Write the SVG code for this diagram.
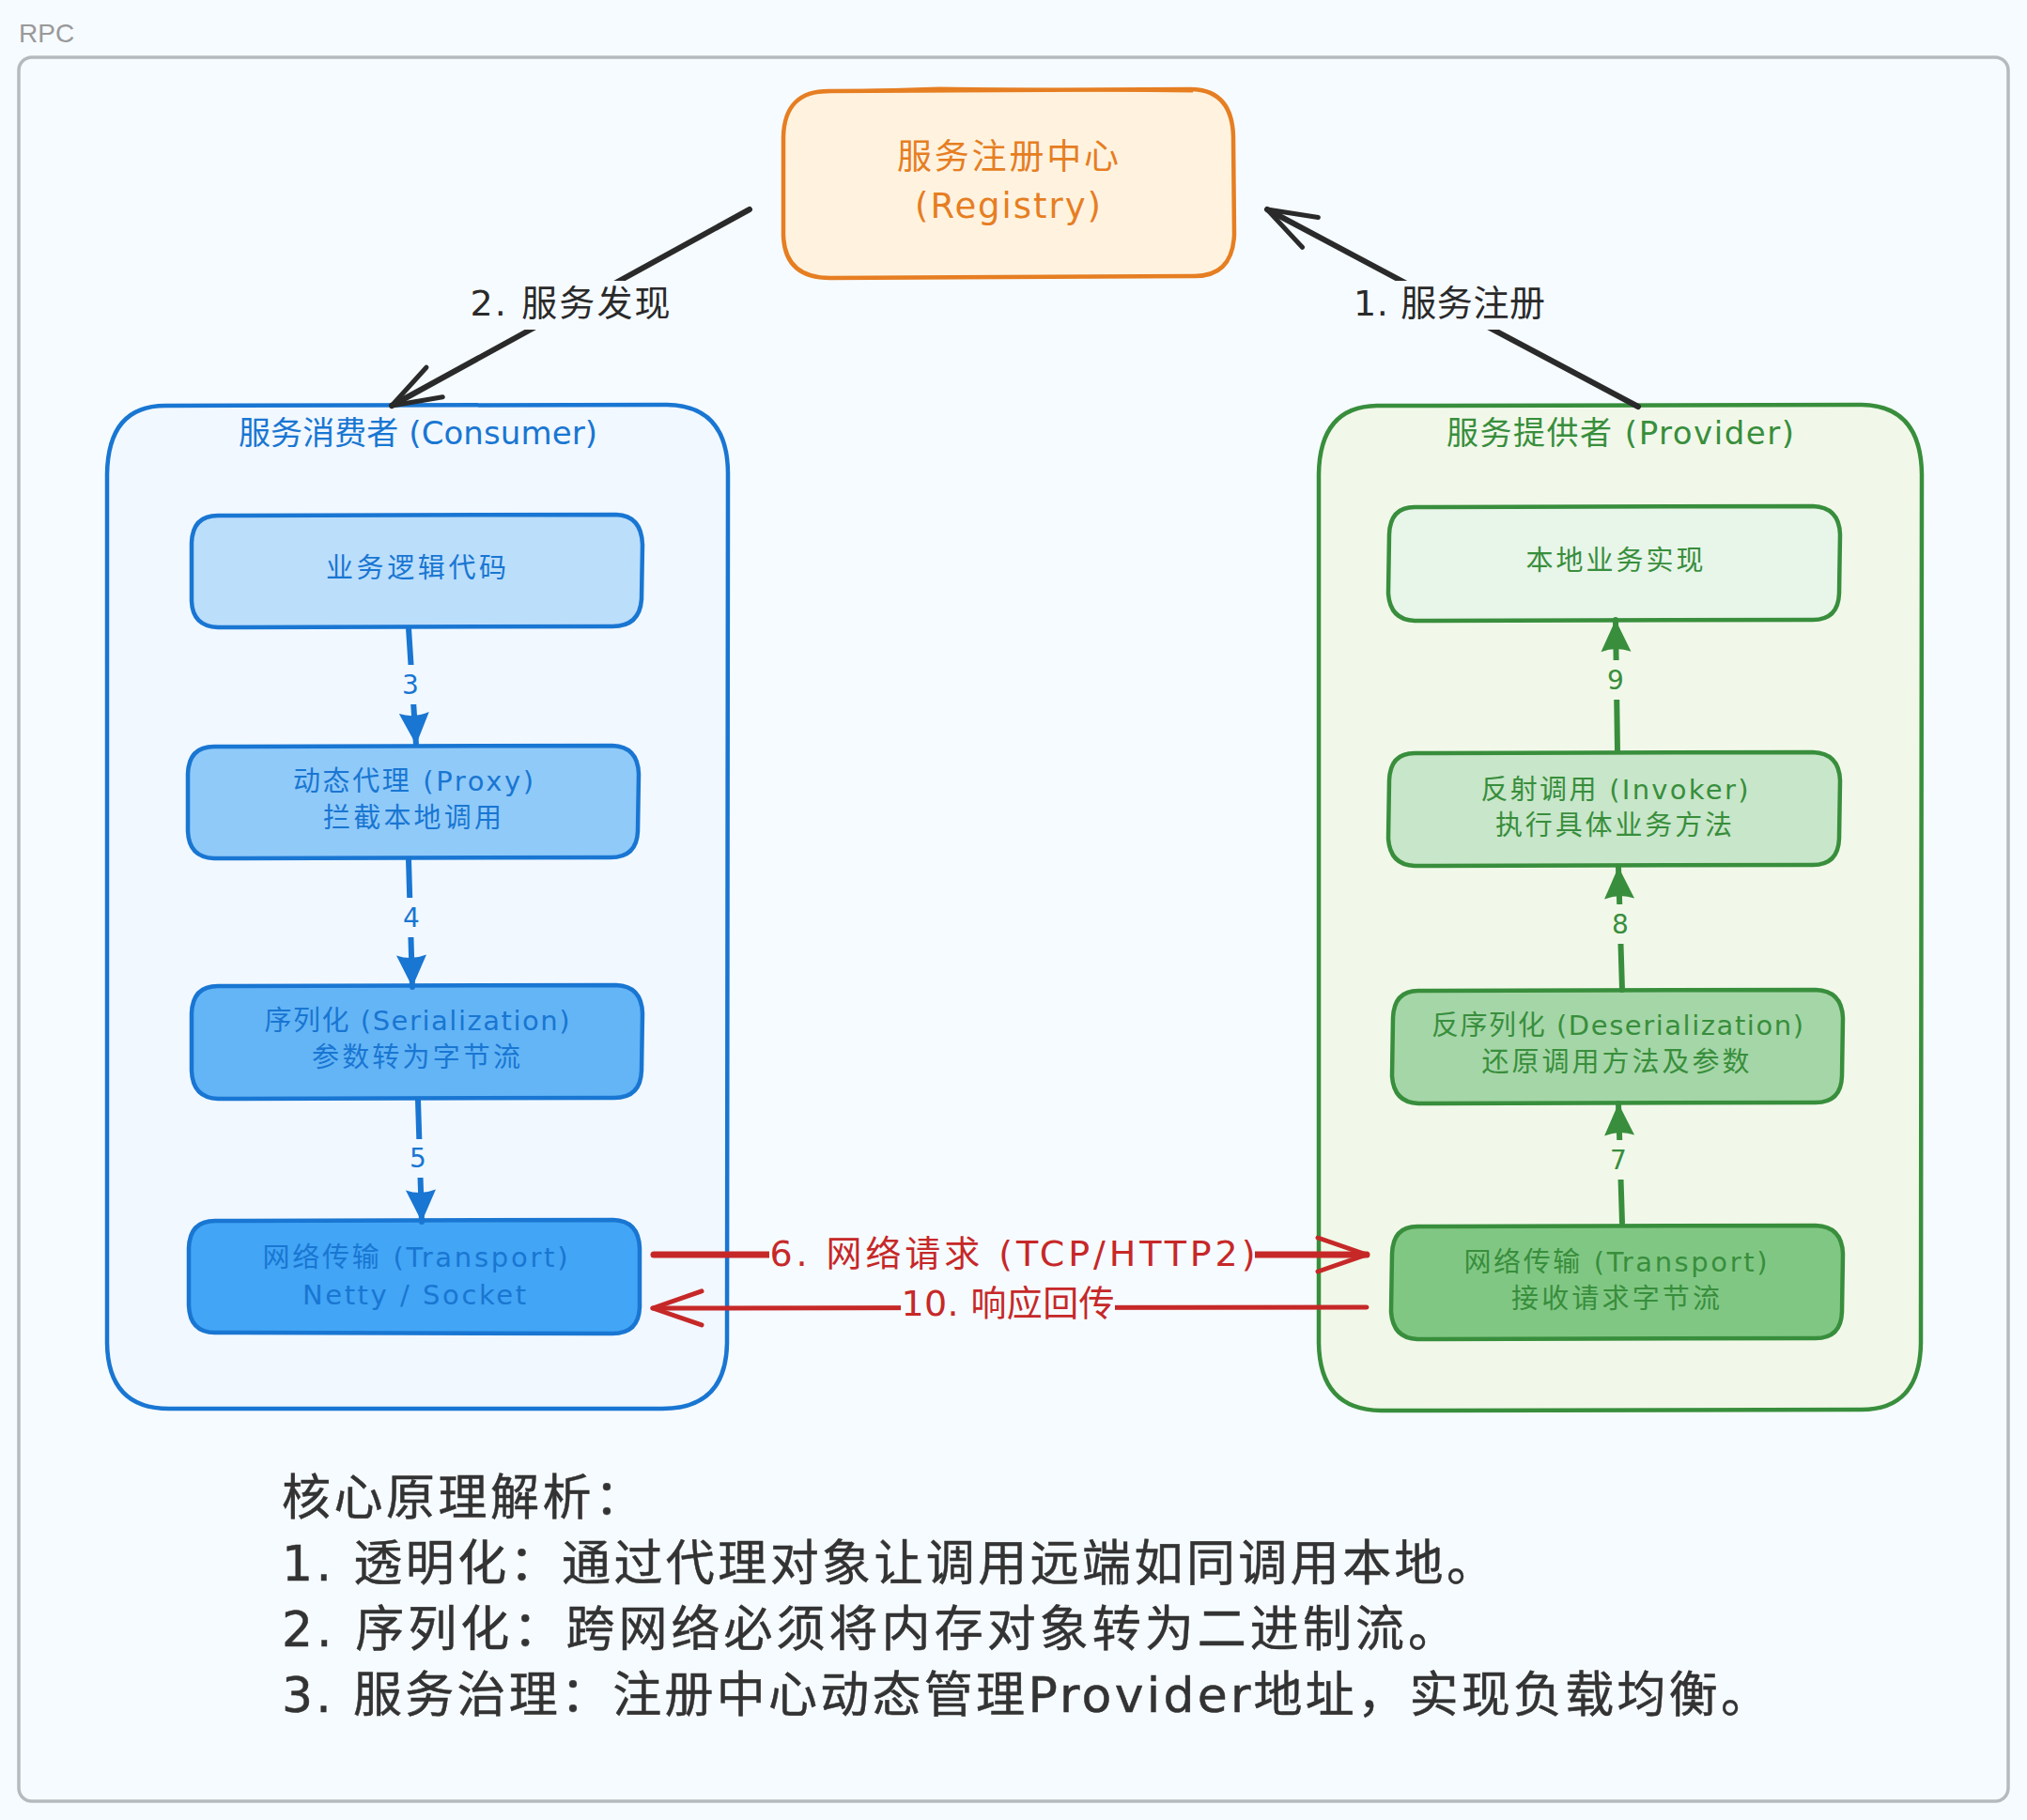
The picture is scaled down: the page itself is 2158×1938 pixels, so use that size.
<svg xmlns="http://www.w3.org/2000/svg" width="2158" height="1938" viewBox="0 0 2158 1938">
<style>
text{font-family:"DejaVu Sans","Noto Sans CJK SC",sans-serif;text-anchor:middle}
.b{stroke:#1976d2;stroke-width:4.5;stroke-linejoin:round}
.g{stroke:#388e3c;stroke-width:4.5;stroke-linejoin:round}
.tb{fill:#1976d2;font-size:29px}
.tg{fill:#388e3c;font-size:29px}
.tc{fill:#1976d2;font-size:34px}
.th{fill:#388e3c;font-size:34px}
.to{fill:#e67e22;font-size:37px}
.bl{fill:#2a2a2a;font-size:38px}
.rd{fill:#c62828;font-size:38px}
.body{fill:#333;font-size:52px;text-anchor:start;stroke:#333;stroke-width:.5}
.n{font-size:28px}
.cb{fill:none;stroke:#1976d2;stroke-width:6;stroke-linecap:round;marker-end:url(#fb)}
.cg{fill:none;stroke:#388e3c;stroke-width:6;stroke-linecap:round;marker-end:url(#fg)}
.ck{fill:none;stroke:#2a2a2a;stroke-width:6;stroke-linecap:round;marker-end:url(#vk)}
.cr{fill:none;stroke:#c62828;stroke-linecap:round;marker-end:url(#vr)}
</style>
<defs>
<marker id="fb" markerUnits="userSpaceOnUse" markerWidth="40" markerHeight="40" refX="36" refY="20" orient="auto"><path d="M2 4 L36 20 L2 36 Q8 20 2 4Z" fill="#1976d2"/></marker>
<marker id="fg" markerUnits="userSpaceOnUse" markerWidth="40" markerHeight="40" refX="36" refY="20" orient="auto"><path d="M2 4 L36 20 L2 36 Q8 20 2 4Z" fill="#388e3c"/></marker>
<marker id="vk" markerUnits="userSpaceOnUse" markerWidth="60" markerHeight="50" refX="55" refY="25" orient="auto"><path d="M3 7 L55 25 L3 43" fill="none" stroke="#2a2a2a" stroke-width="5" stroke-linecap="round" stroke-linejoin="round"/></marker>
<marker id="vr" markerUnits="userSpaceOnUse" markerWidth="60" markerHeight="50" refX="55" refY="25" orient="auto"><path d="M3 7 L55 25 L3 43" fill="none" stroke="#c62828" stroke-width="5" stroke-linecap="round" stroke-linejoin="round"/></marker>
</defs>
<rect width="2158" height="1938" fill="#f6fbff"/>
<text x="20" y="45" style="font-family:'Liberation Sans',sans-serif;text-anchor:start;font-size:28px" fill="#999">RPC</text>
<rect id="frame" x="20" y="61" width="2118" height="1857" rx="14" fill="none" stroke="#b4babd" stroke-width="3.5"/>

<g id="registry">
<path d="M884 97 L1268 95 Q1312 96 1313 146 L1314 250 Q1312 296 1268 294 L884 296 Q835 296 834 250 L834 146 Q835 96 884 97Z" fill="#fff3e0" stroke="#e67e22" stroke-width="4.5"/>
<path d="M870 98 L1000 94 L1270 97" fill="none" stroke="#e67e22" stroke-width="3"/>
<text class="to" x="1073" y="180" textLength="236">服务注册中心</text>
<text class="to" x="1073" y="232" textLength="198">(Registry)</text>
</g>

<g id="consumer">
<path d="M176 432 L710 431 Q775 432 775 505 L774 1430 Q773 1500 705 1500 L180 1500 Q115 1500 114 1430 L114 505 Q115 432 176 432Z" fill="#f1f8ff" class="b"/>
<text class="tc" x="445" y="473" textLength="382">服务消费者 (Consumer)</text>
</g>
<g id="provider">
<path d="M1466 432 L1982 431 Q2045 432 2046 505 L2045 1430 Q2044 1502 1980 1501 L1470 1502 Q1405 1501 1404 1430 L1404 505 Q1405 433 1466 432Z" fill="#f1f8e9" class="g"/>
<text class="th" x="1725" y="473" textLength="370">服务提供者 (Provider)</text>
</g>

<g id="c1"><path d="M232 549 L656 548 Q683 549 684 580 L683 638 Q681 667 652 667 L232 668 Q205 667 204 640 L204 578 Q205 549 232 549Z" fill="#bbdefb" class="b"/><text class="tb" x="443" y="615" textLength="192">业务逻辑代码</text></g>
<g id="c2"><path d="M228 795 L652 794 Q679 795 680 824 L679 885 Q678 913 650 913 L228 914 Q201 913 200 885 L200 824 Q201 795 228 795Z" fill="#90caf9" class="b"/><text class="tb" x="440" y="842" textLength="256">动态代理 (Proxy)</text><text class="tb" x="439" y="881" textLength="190">拦截本地调用</text></g>
<g id="c3"><path d="M232 1050 L656 1049 Q683 1050 684 1079 L683 1140 Q682 1169 654 1169 L232 1170 Q205 1169 204 1140 L204 1079 Q205 1050 232 1050Z" fill="#64b5f6" class="b"/><text class="tb" x="444" y="1097" textLength="325">序列化 (Serialization)</text><text class="tb" x="443" y="1136" textLength="222">参数转为字节流</text></g>
<g id="c4"><path d="M229 1300 L653 1299 Q680 1300 681 1329 L681 1392 Q680 1420 652 1420 L229 1419 Q202 1419 201 1390 L201 1329 Q202 1300 229 1300Z" fill="#42a5f5" class="b"/><text class="tb" x="442" y="1349" textLength="325">网络传输 (Transport)</text><text class="tb" x="441" y="1389" textLength="238">Netty / Socket</text></g>

<g id="p1"><path d="M1506 540 L1930 539 Q1958 540 1959 569 L1958 632 Q1957 660 1930 660 L1506 661 Q1480 660 1478 632 L1479 569 Q1480 540 1506 540Z" fill="#e8f5e9" class="g"/><text class="tg" x="1719" y="607" textLength="189">本地业务实现</text></g>
<g id="p2"><path d="M1506 802 L1930 801 Q1958 802 1959 831 L1958 893 Q1957 921 1930 921 L1506 922 Q1480 921 1478 893 L1479 831 Q1480 802 1506 802Z" fill="#c8e6c9" class="g"/><text class="tg" x="1719" y="851" textLength="285">反射调用 (Invoker)</text><text class="tg" x="1718" y="889" textLength="252">执行具体业务方法</text></g>
<g id="p3"><path d="M1510 1055 L1933 1054 Q1961 1055 1962 1084 L1961 1146 Q1960 1174 1933 1174 L1510 1175 Q1484 1174 1482 1146 L1483 1084 Q1484 1055 1510 1055Z" fill="#a5d6a7" class="g"/><text class="tg" x="1722" y="1102" textLength="396">反序列化 (Deserialization)</text><text class="tg" x="1720" y="1141" textLength="285">还原调用方法及参数</text></g>
<g id="p4"><path d="M1509 1306 L1933 1305 Q1961 1306 1962 1335 L1961 1397 Q1960 1425 1933 1425 L1509 1426 Q1483 1425 1481 1397 L1482 1335 Q1483 1306 1509 1306Z" fill="#81c784" class="g"/><text class="tg" x="1720" y="1354" textLength="323">网络传输 (Transport)</text><text class="tg" x="1720" y="1393" textLength="222">接收请求字节流</text></g>

<g id="connectors">
<path class="ck" d="M798 223 L417 432"/>
<path class="ck" d="M1744 433 L1349 223"/>
<path class="cb" d="M435 669 L443 793"/>
<path class="cb" d="M435 915 L439 1051"/>
<path class="cb" d="M445 1171 L449 1301"/>
<path class="cg" d="M1727 1302 L1723 1175"/>
<path class="cg" d="M1727 1054 L1723 923"/>
<path class="cg" d="M1722 800 L1720 660"/>
<path class="cr" stroke-width="7" d="M696 1336 L1455 1336"/>
<path class="cr" stroke-width="5" d="M1455 1392 L695 1393"/>
<rect x="500" y="299" width="214" height="52" fill="#f6fbff"/>
<text class="bl" x="607" y="336" textLength="213">2. 服务发现</text>
<rect x="1441" y="299" width="204" height="52" fill="#f6fbff"/>
<text class="bl" x="1543" y="336" textLength="204">1. 服务注册</text>
<rect x="424" y="708" width="26" height="42" fill="#f1f8ff"/><text class="tb n" x="437" y="739">3</text>
<rect x="425" y="956" width="26" height="42" fill="#f1f8ff"/><text class="tb n" x="438" y="987">4</text>
<rect x="432" y="1213" width="26" height="41" fill="#f1f8ff"/><text class="tb n" x="445" y="1243">5</text>
<rect x="1710" y="1214" width="26" height="42" fill="#f1f8e9"/><text class="tg n" x="1723" y="1245">7</text>
<rect x="1712" y="963" width="26" height="42" fill="#f1f8e9"/><text class="tg n" x="1725" y="994">8</text>
<rect x="1707" y="703" width="26" height="42" fill="#f1f8e9"/><text class="tg n" x="1720" y="734">9</text>
<rect x="819" y="1312" width="517" height="50" fill="#f6fbff"/>
<text class="rd" x="1078" y="1348" textLength="517">6. 网络请求 (TCP/HTTP2)</text>
<rect x="959" y="1368" width="228" height="46" fill="#f6fbff"/>
<text class="rd" x="1073" y="1401" textLength="227">10. 响应回传</text>
</g>

<g id="notes">
<text class="body" x="300" y="1613" textLength="385">核心原理解析&#xFF1A;</text>
<text class="body" x="300" y="1683" textLength="1292">1. 透明化&#xFF1A;通过代理对象让调用远端如同调用本地。</text>
<text class="body" x="300" y="1753" textLength="1251">2. 序列化&#xFF1A;跨网络必须将内存对象转为二进制流。</text>
<text class="body" x="300" y="1823" textLength="1584">3. 服务治理&#xFF1A;注册中心动态管理Provider地址&#xFF0C;实现负载均衡。</text>
</g>
</svg>
